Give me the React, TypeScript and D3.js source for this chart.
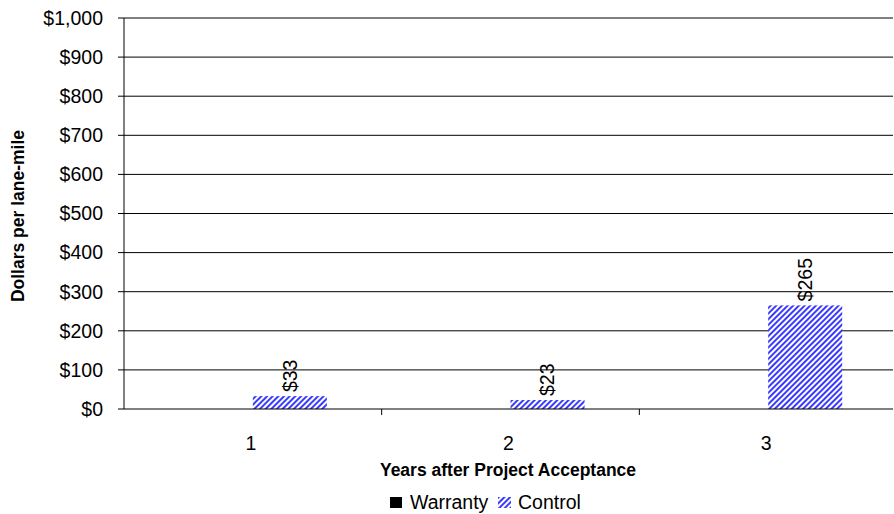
import React from "react";
import * as d3 from "d3";

const categories = ["1", "2", "3"];
const warranty: (number | null)[] = [null, null, null];
const control: number[] = [33, 23, 265];
const yTicks = [0, 100, 200, 300, 400, 500, 600, 700, 800, 900, 1000];

const W = 894, H = 514;
const M = { left: 124, right: 893, top: 18, bottom: 409, bandEnd: 897 };

export default function App() {
  const x = d3.scaleBand<string>().domain(categories).range([M.left, M.bandEnd]);
  const inner = d3.scaleBand<string>().domain(["w", "c"]).range([0, x.bandwidth()]).paddingOuter(0.74).paddingInner(0);
  const y = d3.scaleLinear().domain([0, 1000]).range([M.bottom, M.top]);
  const fmt = (v: number) => "$" + d3.format(",")(v);
  const font = "Liberation Sans, Arial, sans-serif";
  return (
    <svg width={W} height={H} style={{ position: "absolute", left: 0, top: 0 }} fontFamily={font}>
      <defs>
        <pattern id="hatch" width="4" height="4" patternUnits="userSpaceOnUse" patternTransform="rotate(45)">
          <rect width="4" height="4" fill="#fff" />
          <rect x="0" y="0" width="2" height="4" fill="#3a3aff" />
        </pattern>
      </defs>
      <rect width={W} height={H} fill="#fff" />
      {yTicks.map((t) => (
        <g key={t}>
          {t > 0 && <line x1={M.left} x2={M.right} y1={y(t)} y2={y(t)} stroke="#000" strokeWidth={1} />}
          <line x1={M.left - 6} x2={M.left} y1={y(t)} y2={y(t)} stroke="#000" />
          <text x={M.left - 21} y={y(t)} dy="0.35em" textAnchor="end" fontSize={19.5}>{fmt(t)}</text>
        </g>
      ))}
      {categories.map((c, i) => {
        const cv = control[i];
        const bx = (x(c) as number) + (inner("c") as number);
        const bw = inner.bandwidth();
        return (
          <g key={c}>
            {warranty[i] != null && (
              <rect x={(x(c) as number) + (inner("w") as number)} y={y(warranty[i] as number)} width={bw} height={M.bottom - y(warranty[i] as number)} fill="#000" />
            )}
            <rect x={bx} y={y(cv)} width={bw} height={M.bottom - y(cv)} fill="url(#hatch)" />
            <text transform={`translate(${bx + bw / 2},${y(cv) - 4}) rotate(-90)`} dy="0.35em" fontSize={19.5}>{fmt(cv)}</text>
            <text x={(x(c) as number) + x.bandwidth() / 2 - 2} y={450} textAnchor="middle" fontSize={19.5}>{c}</text>
          </g>
        );
      })}
      <line x1={M.left} x2={M.left} y1={M.top} y2={M.bottom} stroke="#000" />
      <line x1={M.left} x2={M.right} y1={M.bottom} y2={M.bottom} stroke="#000" />
      {categories.slice(1).map((c) => (
        <line key={c} x1={x(c) as number} x2={x(c) as number} y1={M.bottom} y2={M.bottom + 6} stroke="#000" />
      ))}
      <text transform={`translate(24,${216}) rotate(-90)`} textAnchor="middle" fontSize={17.5} fontWeight="bold">Dollars per lane-mile</text>
      <text x={508} y={476} textAnchor="middle" fontSize={17.5} fontWeight="bold">Years after Project Acceptance</text>
      <g transform="translate(390,497)">
        <rect x={0} y={0} width={12} height={11} fill="#000" />
        <text x={20} y={11.5} fontSize={19.5}>Warranty</text>
        <rect x={108} y={0} width={13} height={11} fill="url(#hatch)" />
        <text x={128} y={11.5} fontSize={19.5}>Control</text>
      </g>
    </svg>
  );
}
